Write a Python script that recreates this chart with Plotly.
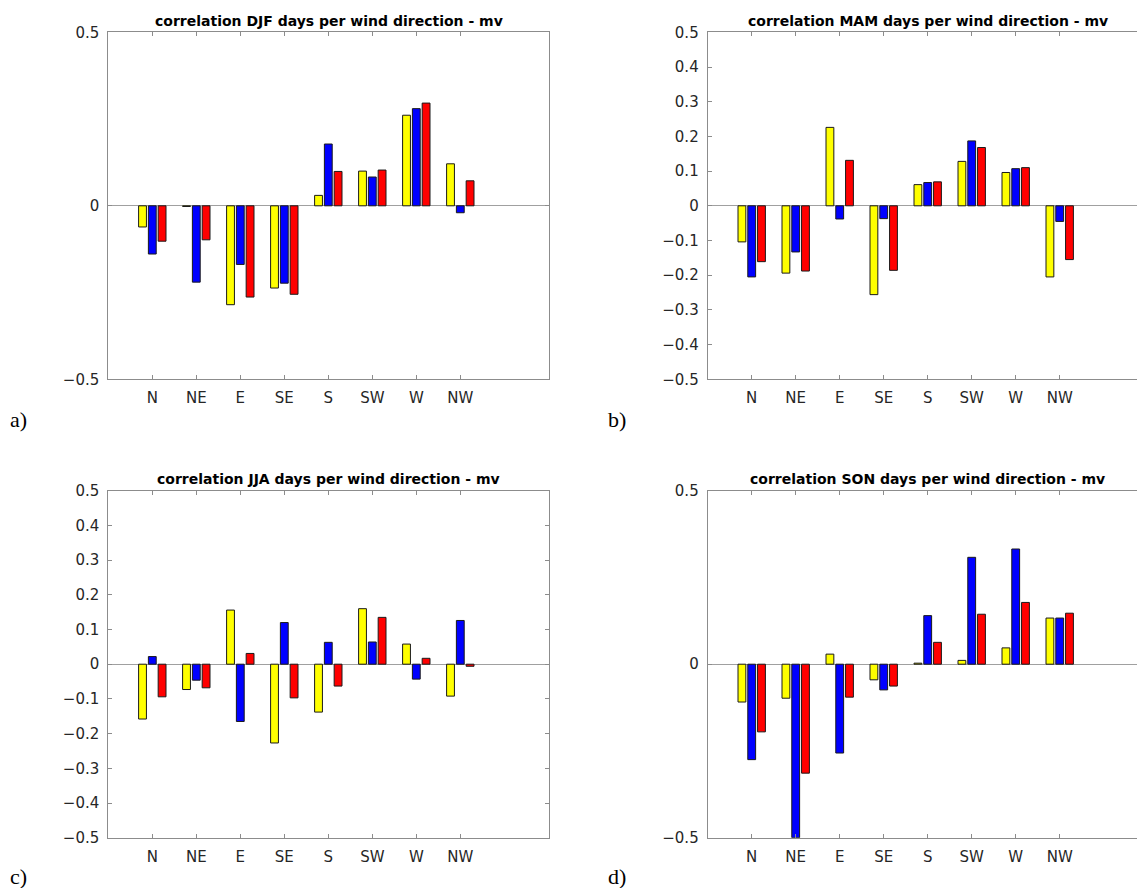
import plotly.graph_objects as go

# Wind-direction categories and their numeric positions on the x axes
directions = ["N", "NE", "E", "SE", "S", "SW", "W", "NW"]
positions = [1, 2, 3, 4, 5, 6, 7, 8]

# DJF correlations (yellow, blue, red series)
djf_yellow = [-0.061, -0.002, -0.285, -0.237, 0.030, 0.100, 0.261, 0.121]
djf_blue = [-0.139, -0.220, -0.169, -0.223, 0.178, 0.083, 0.280, -0.020]
djf_red = [-0.102, -0.098, -0.263, -0.255, 0.099, 0.103, 0.296, 0.072]

# MAM correlations
mam_yellow = [-0.104, -0.194, 0.226, -0.256, 0.061, 0.128, 0.096, -0.205]
mam_blue = [-0.205, -0.133, -0.038, -0.037, 0.067, 0.187, 0.107, -0.045]
mam_red = [-0.161, -0.188, 0.131, -0.186, 0.069, 0.168, 0.110, -0.155]

# JJA correlations
jja_yellow = [-0.158, -0.073, 0.156, -0.227, -0.138, 0.160, 0.058, -0.092]
jja_blue = [0.022, -0.046, -0.165, 0.120, 0.063, 0.064, -0.043, 0.126]
jja_red = [-0.094, -0.068, 0.031, -0.097, -0.063, 0.135, 0.017, -0.006]

# SON correlations
son_yellow = [-0.109, -0.098, 0.029, -0.045, 0.003, 0.011, 0.047, 0.133]
son_blue = [-0.275, -0.500, -0.256, -0.074, 0.140, 0.308, 0.332, 0.133]
son_red = [-0.195, -0.314, -0.095, -0.063, 0.063, 0.144, 0.178, 0.147]

seasons = ["DJF", "MAM", "JJA", "SON"]
panel_letters = ["a)", "b)", "c)", "d)"]
series_colors = ["#ffff00", "#0000ff", "#ff0000"]

# y tick labels: coarse for a) and d), fine for b) and c)
coarse_vals = [-0.5, 0, 0.5]
coarse_text = ["\u22120.5", "0", "0.5"]
fine_vals = [-0.5, -0.4, -0.3, -0.2, -0.1, 0, 0.1, 0.2, 0.3, 0.4, 0.5]
fine_text = ["\u22120.5", "\u22120.4", "\u22120.3", "\u22120.2", "\u22120.1",
             "0", "0.1", "0.2", "0.3", "0.4", "0.5"]

data = {
    "DJF": (djf_yellow, djf_blue, djf_red),
    "MAM": (mam_yellow, mam_blue, mam_red),
    "JJA": (jja_yellow, jja_blue, jja_red),
    "SON": (son_yellow, son_blue, son_red),
}

W, H = 1137, 888
PX_PER_UNIT = 44.0  # horizontal scale of each axes (x limits 0..10)


def yfrac(page_y):
    """Paper fraction (from the bottom) for a vertical pixel position."""
    return 1 - page_y / H


# Axes boxes in pixels: (left, right, top, bottom)
boxes = [
    (108.3, 548.7, 32.3, 379.3),
    (707.7, 1147.7, 32.3, 379.3),
    (108.3, 548.7, 490.7, 837.7),
    (707.7, 1147.7, 490.7, 837.7),
]

LINE = "#8c8c8c"
TXT = "#262626"
TICKFONT = dict(family="DejaVu Sans", size=15, color=TXT)

fig = go.Figure()
layout = dict(
    width=W, height=H,
    margin=dict(l=0, r=0, t=0, b=0, autoexpand=False),
    paper_bgcolor="white", plot_bgcolor="white",
    barmode="group", bargap=0.333, bargroupgap=0.2,
    showlegend=False,
    font=dict(family="DejaVu Sans", size=15, color=TXT),
    annotations=[],
)

for i, season in enumerate(seasons):
    n = "" if i == 0 else str(i + 1)
    xa, ya = "x" + n, "y" + n
    for vals, col in zip(data[season], series_colors):
        fig.add_trace(go.Bar(
            x=positions, y=vals, xaxis=xa, yaxis=ya,
            marker=dict(color=col, line=dict(color="#1a1a1a", width=1)),
            hoverinfo="y",
        ))

    left, right, top, bottom = boxes[i]
    clipped = right > W
    dom_right = min(right, W)
    x_max = (dom_right - left) / PX_PER_UNIT
    coarse = season in ("DJF", "SON")

    layout["xaxis" + n] = dict(
        domain=[left / W, dom_right / W], anchor=ya,
        range=[0, x_max], tickvals=positions, ticktext=directions,
        showline=True, linecolor=LINE, linewidth=1, mirror="ticks",
        ticks="inside", ticklen=4, tickcolor=LINE, tickwidth=1,
        ticklabelstandoff=5, automargin=False,
        showgrid=False, zeroline=False, fixedrange=True,
        tickfont=TICKFONT,
    )
    layout["yaxis" + n] = dict(
        domain=[yfrac(bottom), yfrac(top)], anchor=xa,
        range=[-0.5, 0.5],
        tickvals=coarse_vals if coarse else fine_vals,
        ticktext=coarse_text if coarse else fine_text,
        showline=True, linecolor=LINE, linewidth=1,
        mirror=False if clipped else "ticks",
        ticks="inside", ticklen=4, tickcolor=LINE, tickwidth=1,
        ticklabelstandoff=5, automargin=False,
        showgrid=False, zeroline=True, zerolinecolor="#a0a0a0", zerolinewidth=1,
        fixedrange=True,
        tickfont=TICKFONT,
    )

    # title centred on the full axes box
    layout["annotations"].append(dict(
        text="<b>correlation %s days per wind direction - mv</b>" % season,
        xref="paper", yref="paper",
        x=((left + right) / 2) / W, y=yfrac(top - 11.5),
        xanchor="center", yanchor="middle", showarrow=False,
        font=dict(family="DejaVu Sans", size=14, color="black"),
    ))
    # panel letter
    lx = 8 if left < 300 else 606
    ly = 419 if top < 300 else 876
    layout["annotations"].append(dict(
        text=panel_letters[i], xref="paper", yref="paper",
        x=lx / W, y=yfrac(ly), xanchor="left", yanchor="middle",
        showarrow=False,
        font=dict(family="Liberation Serif", size=22, color="black"),
    ))

fig.update_layout(**layout)
fig.write_html("out.html")
